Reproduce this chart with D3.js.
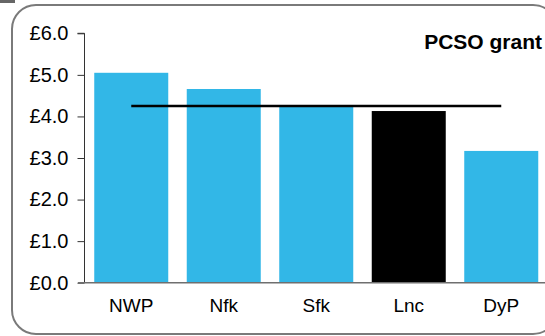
<!DOCTYPE html>
<html><head><meta charset="utf-8">
<script src="https://cdn.jsdelivr.net/npm/d3@7"></script>
<style>body{margin:0;background:#fff}svg{display:block;font-family:"Liberation Sans",Arial,sans-serif}</style>
</head><body>
<script>
const categories = ["NWP", "Nfk", "Sfk", "Lnc", "DyP"];
const values = [5.05, 4.66, 4.23, 4.13, 3.17];
const highlight = ["Lnc"];
const averageValue = [4.25];
const yTicks = [0, 1, 2, 3, 4, 5, 6];
const title = "PCSO grant";

const W = 545, H = 336;
const svg = d3.select("body").append("svg").attr("width", W).attr("height", H);

// frame
svg.append("rect").attr("x", 0).attr("y", 0).attr("width", 15).attr("height", 3).attr("fill", "#666");
svg.append("rect").attr("x", 12).attr("y", 5).attr("width", 545).attr("height", 329)
  .attr("rx", 24).attr("fill", "none").attr("stroke", "#7a7a7a").attr("stroke-width", 2);

const x = d3.scaleBand().domain(categories).range([85, 547.5]).paddingInner(0.2).paddingOuter(0.1);
const y = d3.scaleLinear().domain([0, 6]).range([282.7, 33.3]);

svg.selectAll("rect.bar").data(categories).join("rect").attr("class", "bar")
  .attr("x", d => x(d)).attr("width", x.bandwidth())
  .attr("y", (d, i) => y(values[i])).attr("height", (d, i) => y(0) - y(values[i]))
  .attr("fill", d => highlight.includes(d) ? "#000" : "#32b7e7");

// average line
svg.append("line")
  .attr("x1", x(categories[0]) + x.bandwidth() / 2)
  .attr("x2", x(categories[categories.length - 1]) + x.bandwidth() / 2)
  .attr("y1", y(averageValue[0])).attr("y2", y(averageValue[0]))
  .attr("stroke", "#000").attr("stroke-width", 2.5);

// y axis
const yAxis = d3.axisLeft(y).tickValues(yTicks).tickFormat(d => "£" + d3.format(".1f")(d)).tickSize(7).tickPadding(9);
const gy = svg.append("g").attr("transform", "translate(84.5,0)").call(yAxis);
gy.select(".domain").attr("stroke", "#333").attr("d", `M-7,${y(6)}H0V${y(0)}`);
gy.selectAll(".tick line").attr("stroke", "#333");
gy.selectAll(".tick text").attr("font-size", 20).attr("fill", "#000").attr("font-family", "Liberation Sans, Arial, sans-serif");

// baseline
svg.append("line").attr("x1", 78).attr("x2", 545).attr("y1", y(0)).attr("y2", y(0))
  .attr("stroke", "#6f6f6f").attr("stroke-width", 1.5);

// x labels
const xAxis = d3.axisBottom(x).tickSize(0).tickPadding(16);
const gx = svg.append("g").attr("transform", `translate(0,${y(0)})`).call(xAxis);
gx.select(".domain").remove();
gx.selectAll(".tick text").attr("font-size", 19).attr("fill", "#000").attr("font-family", "Liberation Sans, Arial, sans-serif");

svg.append("text").attr("x", 542).attr("y", 49).attr("text-anchor", "end")
  .attr("font-size", 21).attr("font-weight", "bold").attr("fill", "#000").text(title);
</script>
</body></html>
